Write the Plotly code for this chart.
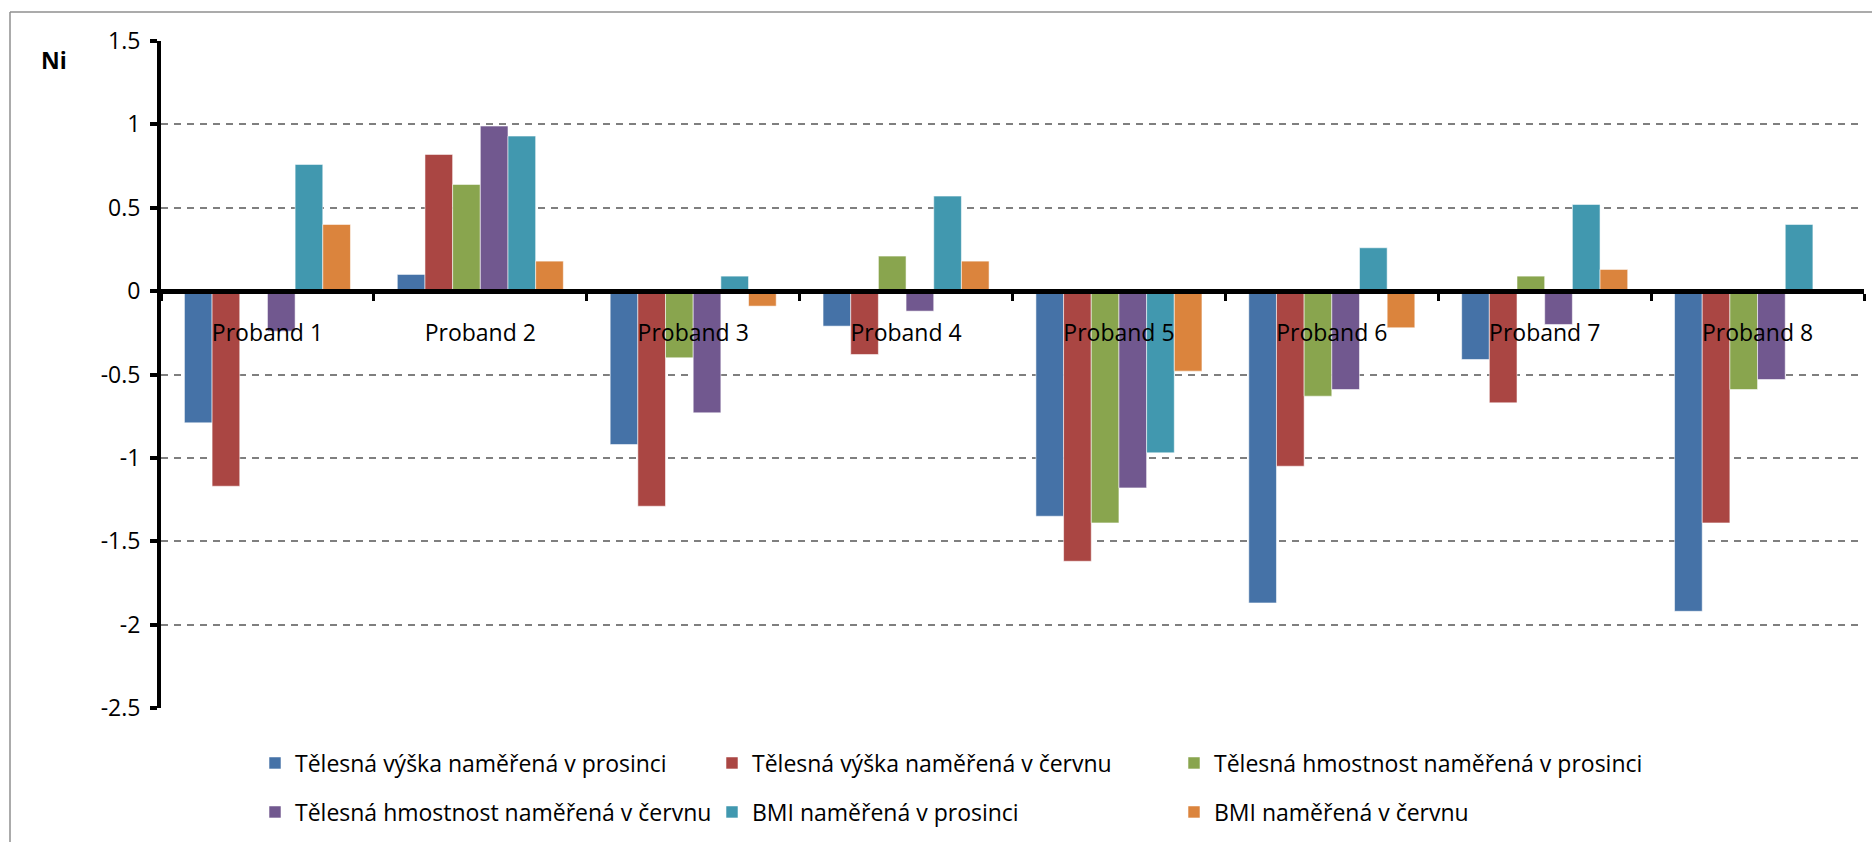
import plotly.graph_objects as go

categories = ["Proband 1", "Proband 2", "Proband 3", "Proband 4",
              "Proband 5", "Proband 6", "Proband 7", "Proband 8"]

series_names = [
    "Tělesná výška naměřená v prosinci",
    "Tělesná výška naměřená v červnu",
    "Tělesná hmostnost naměřená v prosinci",
    "Tělesná hmostnost naměřená v červnu",
    "BMI naměřená v prosinci",
    "BMI naměřená v červnu",
]

vyska_prosinec = [-0.79, 0.10, -0.92, -0.21, -1.35, -1.87, -0.41, -1.92]
vyska_cerven = [-1.17, 0.82, -1.29, -0.38, -1.62, -1.05, -0.67, -1.39]
hmotnost_prosinec = [0.0, 0.64, -0.40, 0.21, -1.39, -0.63, 0.09, -0.59]
hmotnost_cerven = [-0.24, 0.99, -0.73, -0.12, -1.18, -0.59, -0.20, -0.53]
bmi_prosinec = [0.76, 0.93, 0.09, 0.57, -0.97, 0.26, 0.52, 0.40]
bmi_cerven = [0.40, 0.18, -0.09, 0.18, -0.48, -0.22, 0.13, 0.0]

y_ticks = [1.5, 1, 0.5, 0, -0.5, -1, -1.5, -2, -2.5]
y_tick_text = ["1.5", "1", "0.5", "0", "-0.5", "-1", "-1.5", "-2", "-2.5"]

colors = ["#4572A7", "#AA4643", "#89A54E", "#71588F", "#4198AF", "#DB843D"]
values = [vyska_prosinec, vyska_cerven, hmotnost_prosinec,
          hmotnost_cerven, bmi_prosinec, bmi_cerven]

FONT = "Open Sans"
W, H = 1872, 842
ML, MR, MT, MB = 161, 8, 41, 134
PW = W - ML - MR
PH = H - MT - MB

def px_x(px):
    return (px - ML) / PW

def px_y(py):
    return (H - MB - py) / PH

legend_ids = ["legend", "legend2", "legend3", "legend4", "legend5", "legend6"]
legend_px = [(255, 763), (712, 763), (1174, 763),
             (255, 812), (712, 812), (1174, 812)]

fig = go.Figure()
for i, (name, vals, col) in enumerate(zip(series_names, values, colors)):
    fig.add_trace(go.Bar(
        x=categories, y=vals, name=name,
        marker=dict(color=col, line=dict(color="rgba(255,255,255,0.55)", width=1)),
        legend=legend_ids[i],
    ))

legends = {}
for lid, (lx, ly) in zip(legend_ids, legend_px):
    legends[lid] = dict(orientation="h", x=px_x(lx), xanchor="left",
                        y=px_y(ly), yanchor="middle",
                        font=dict(family=FONT, size=23, color="black"),
                        bgcolor="rgba(0,0,0,0)", itemclick=False)

fig.update_layout(
    width=W, height=H,
    margin=dict(l=ML, r=MR, t=MT, b=MB),
    paper_bgcolor="white", plot_bgcolor="white",
    font=dict(family=FONT, size=23, color="black"),
    barmode="group", bargap=0.22, bargroupgap=0,
    showlegend=True,
    xaxis=dict(
        type="category", anchor="free", position=px_y(291.3),
        showline=True, linecolor="black", linewidth=5,
        ticks="outside", tickson="boundaries", ticklen=7, tickwidth=3,
        tickcolor="black", showgrid=False, zeroline=False,
        ticklabelstandoff=19,
        tickfont=dict(family=FONT, size=23, color="black"),
        layer="above traces",
    ),
    yaxis=dict(
        range=[-2.5, 1.5], tickvals=y_ticks, ticktext=y_tick_text,
        showline=True, linecolor="black", linewidth=4,
        ticks="outside", ticklen=7, tickwidth=4, tickcolor="black",
        showgrid=True, gridcolor="#7f7f7f", gridwidth=2, griddash="7px,6px",
        zeroline=False, ticklabelstandoff=5,
        tickfont=dict(family=FONT, size=23, color="black"),
    ),
    yaxis2=dict(
        range=[-2.5, 1.5], overlaying="y", side="left", anchor="x",
        tickvals=y_ticks, showticklabels=False, showgrid=False, zeroline=False,
        ticks="inside", ticklen=9, tickwidth=4, tickcolor="black",
        showline=False,
    ),
    annotations=[dict(text="<b>Ni</b>", x=px_x(54), y=px_y(60), xref="paper", yref="paper",
                      showarrow=False, xanchor="center", yanchor="middle",
                      font=dict(family=FONT, size=23, color="black"))],
    shapes=[
        dict(type="line", xref="paper", yref="paper", x0=px_x(10), x1=px_x(1880),
             y0=px_y(12), y1=px_y(12), line=dict(color="#8f8f8f", width=1.5)),
        dict(type="line", xref="paper", yref="paper", x0=px_x(10), x1=px_x(10),
             y0=px_y(12), y1=px_y(850), line=dict(color="#8f8f8f", width=1.5)),
    ],
    **legends,
)

fig.write_html("out.html")
